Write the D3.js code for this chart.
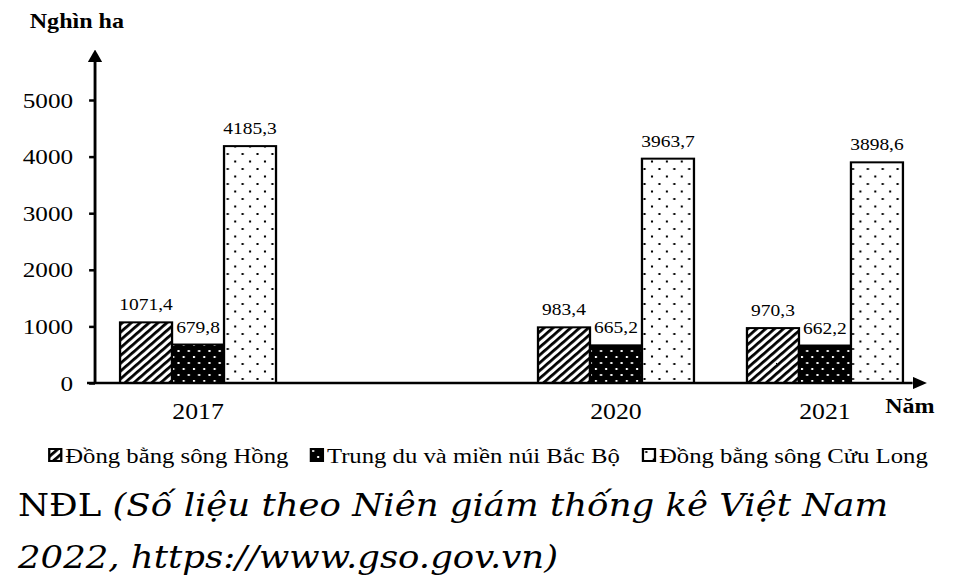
<!DOCTYPE html>
<html>
<head>
<meta charset="utf-8">
<script src="https://cdn.jsdelivr.net/npm/d3@7"></script>
<style>
  body { margin: 0; background: #fff; }
  svg { display: block; }
</style>
</head>
<body>
<svg id="chart"></svg>
<script>
const years = ["2017", "2020", "2021"];
const seriesNames = ["Đồng bằng sông Hồng", "Trung du và miền núi Bắc Bộ", "Đồng bằng sông Cửu Long"];
const dbsh = [1071.4, 983.4, 970.3];
const tdmn = [679.8, 665.2, 662.2];
const dbscl = [4185.3, 3963.7, 3898.6];
const yTicks = [0, 1000, 2000, 3000, 4000, 5000];

const series = [dbsh, tdmn, dbscl];
const fills = ["url(#hatch)", "url(#darkDots)", "url(#lightDots)"];

// the picture is drawn on an 841-wide canvas stretched to 963px (the reference is squeezed that way)
const W = 841, H = 588;
const svg = d3.select("#chart")
    .attr("width", 963)
    .attr("height", H)
    .attr("viewBox", `0 0 ${W} ${H}`)
    .attr("preserveAspectRatio", "none");

const serif = "'Liberation Serif', 'Times New Roman', serif";

// empty slot between 2017 and 2020 keeps the original spacing
const x = d3.scaleBand()
    .domain([years[0], "gap", years[1], years[2]])
    .range([81.7, 81.7 + 4 * 182.5])
    .paddingInner(0)
    .paddingOuter(0);
const y = d3.scaleLinear().domain([0, 5000]).range([383, 100]);
const barW = 45.4;
const x0 = 83;
const cx = d => x(d) + x.bandwidth() / 2;

// patterns
const defs = svg.append("defs");

const hatch = defs.append("pattern")
    .attr("id", "hatch")
    .attr("patternUnits", "userSpaceOnUse")
    .attr("width", 5.5)
    .attr("height", 5.5)
    .attr("patternTransform", "rotate(45)");
hatch.append("rect").attr("width", 5.5).attr("height", 5.5).attr("fill", "#fff");
hatch.append("rect").attr("width", 2.6).attr("height", 5.5).attr("fill", "#000");

const dark = defs.append("pattern")
    .attr("id", "darkDots")
    .attr("patternUnits", "userSpaceOnUse")
    .attr("width", 9)
    .attr("height", 12);
dark.append("rect").attr("width", 9).attr("height", 12).attr("fill", "#000");
dark.append("rect").attr("x", 2).attr("y", 2).attr("width", 1.8).attr("height", 2).attr("fill", "#fff");
dark.append("rect").attr("x", 6.5).attr("y", 8).attr("width", 1.8).attr("height", 2).attr("fill", "#fff");

const light = defs.append("pattern")
    .attr("id", "lightDots")
    .attr("patternUnits", "userSpaceOnUse")
    .attr("width", 13)
    .attr("height", 15);
light.append("rect").attr("width", 13).attr("height", 15).attr("fill", "#fff");
light.append("rect").attr("x", 3).attr("y", 3).attr("width", 1.8).attr("height", 2).attr("fill", "#000");
light.append("rect").attr("x", 9.5).attr("y", 10.5).attr("width", 1.8).attr("height", 2).attr("fill", "#000");

defs.append("marker")
    .attr("id", "arrow")
    .attr("viewBox", "0 0 10 10")
    .attr("refX", 0)
    .attr("refY", 5)
    .attr("markerWidth", 5)
    .attr("markerHeight", 5)
    .attr("orient", "auto")
    .attr("markerUnits", "strokeWidth")
  .append("path")
    .attr("d", "M0,0 L10,5 L0,10 Z")
    .attr("fill", "#000");

// bars
series.forEach((vals, s) => {
    svg.append("g").selectAll("rect")
        .data(years)
        .join("rect")
        .attr("x", d => cx(d) - 1.5 * barW + s * barW)
        .attr("y", (d, i) => y(vals[i]))
        .attr("width", barW)
        .attr("height", (d, i) => y(0) - y(vals[i]))
        .attr("fill", fills[s])
        .attr("stroke", "#000")
        .attr("stroke-width", 2);

    svg.append("g").selectAll("text")
        .data(years)
        .join("text")
        .attr("x", d => cx(d) - barW + s * barW)
        .attr("y", (d, i) => y(vals[i]) - 12)
        .attr("text-anchor", "middle")
        .attr("font-family", serif)
        .attr("font-size", 17)
        .text((d, i) => String(vals[i]).replace(".", ","));
});

// y axis
const yAxis = svg.append("g")
    .attr("transform", `translate(${x0},0)`)
    .call(d3.axisLeft(y).tickValues(yTicks).tickFormat(d3.format("d"))
        .tickSize(5.2).tickSizeOuter(0).tickPadding(14));
yAxis.select(".domain").remove();
yAxis.selectAll(".tick line").attr("stroke-width", 2.5);
yAxis.selectAll(".tick text")
    .attr("font-family", serif)
    .attr("font-size", 22)
    .attr("fill", "#000");

svg.append("line")
    .attr("x1", x0).attr("y1", y(0) + 1)
    .attr("x2", x0).attr("y2", 62)
    .attr("stroke", "#000")
    .attr("stroke-width", 2.5)
    .attr("marker-end", "url(#arrow)");

// x axis
svg.append("line")
    .attr("x1", x0 - 7).attr("y1", y(0))
    .attr("x2", 797).attr("y2", y(0))
    .attr("stroke", "#000")
    .attr("stroke-width", 2.5)
    .attr("marker-end", "url(#arrow)");

svg.append("g").selectAll("text")
    .data(years)
    .join("text")
    .attr("x", d => cx(d))
    .attr("y", 419)
    .attr("text-anchor", "middle")
    .attr("font-family", serif)
    .attr("font-size", 22.5)
    .text(d => d);

svg.append("text")
    .attr("x", 26).attr("y", 28)
    .attr("font-family", serif)
    .attr("font-weight", "bold")
    .attr("font-size", 21)
    .text("Nghìn ha");

svg.append("text")
    .attr("x", 773).attr("y", 413)
    .attr("font-family", serif)
    .attr("font-weight", "bold")
    .attr("font-size", 21)
    .text("Năm");

// legend
const legendX = [42, 270.5, 560.5];
const leg = svg.append("g").selectAll("g")
    .data(seriesNames)
    .join("g")
    .attr("transform", (d, i) => `translate(${legendX[i]},448)`);
leg.append("rect")
    .attr("x", 1).attr("y", 1)
    .attr("width", 10.5).attr("height", 12)
    .attr("fill", (d, i) => fills[i])
    .attr("stroke", "#000")
    .attr("stroke-width", 2);
leg.append("text")
    .attr("x", 15).attr("y", 15)
    .attr("font-family", serif)
    .attr("font-size", 21.6)
    .text(d => d);

// source note
const note = svg.append("text")
    .attr("font-family", "'DejaVu Serif', serif")
    .attr("font-size", 31);
note.append("tspan").attr("x", 15.7).attr("y", 516).text("NĐL ");
note.append("tspan").attr("font-style", "italic").text("(Số liệu theo Niên giám thống kê Việt Nam");
note.append("tspan").attr("x", 15.7).attr("y", 568).attr("font-style", "italic")
    .text("2022, https://www.gso.gov.vn)");
</script>
</body>
</html>
